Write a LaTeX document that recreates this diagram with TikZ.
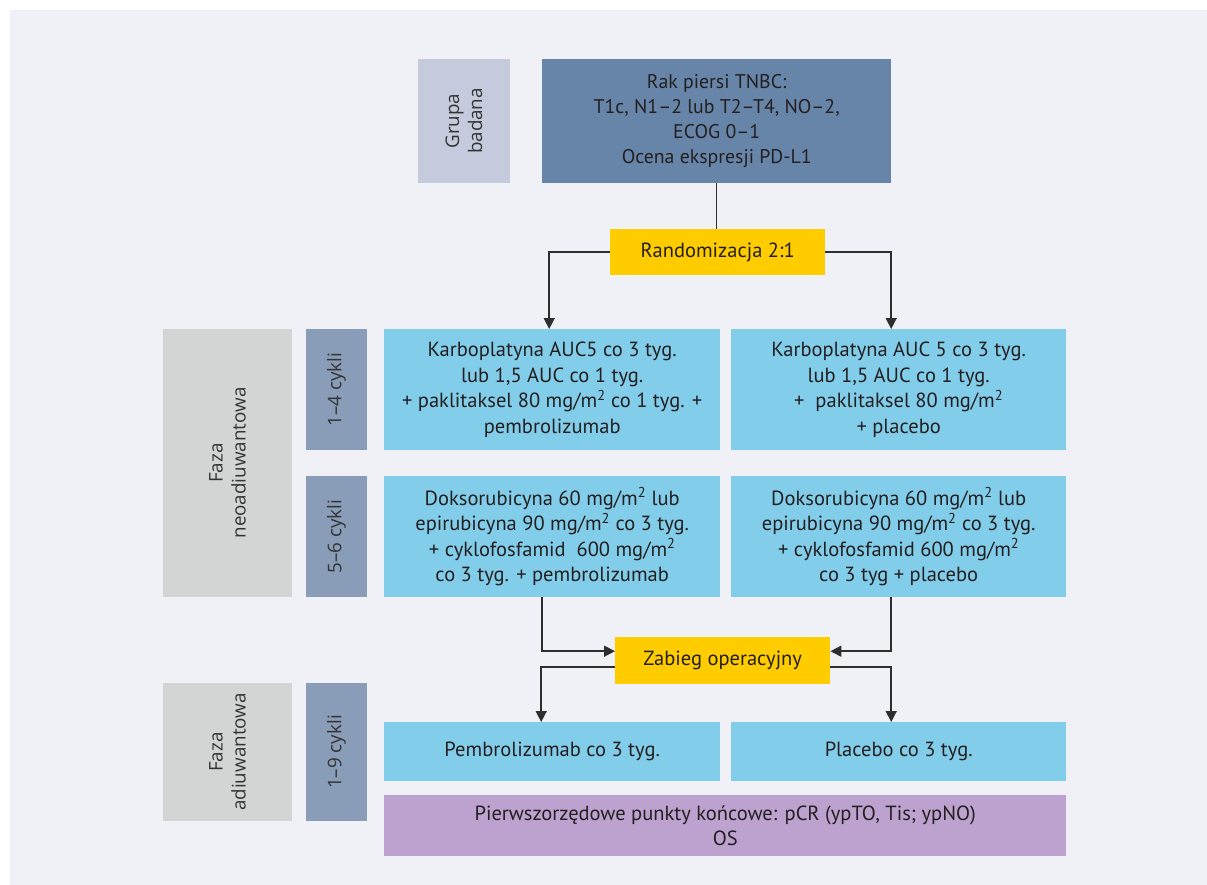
\documentclass[tikz,border=0pt]{standalone}
\usepackage{fontspec}
\setmainfont{PT Sans}
\newfontfamily\rotfont{Open Sans}
\usetikzlibrary{arrows.meta}
\definecolor{panel}{HTML}{F0F1F7}
\definecolor{grupa}{HTML}{C5CBDD}
\definecolor{topbox}{HTML}{6785A8}
\definecolor{yell}{HTML}{FFCC00}
\definecolor{lblue}{HTML}{82CDE9}
\definecolor{fazagray}{HTML}{D3D4D4}
\definecolor{cyc}{HTML}{8A9DB8}
\definecolor{purp}{HTML}{BDA2CF}
\definecolor{txt}{HTML}{231F20}
\definecolor{rtxt}{HTML}{333333}
\definecolor{ln}{HTML}{2E2E2E}
\begin{document}
\begin{tikzpicture}[x=1pt,y=-1pt,
  bx/.style={inner sep=0pt, anchor=north west, align=center, text=txt,
    font=\fontsize{20.5}{25.5}\selectfont},
  rot/.style={inner sep=0pt, rotate=90, align=center, text=rtxt,
    font=\rotfont\fontsize{18.8}{23}\selectfont},
  conn/.style={draw=ln, line width=1.5pt},
  arr/.style={conn, -{Triangle[length=11pt,width=11pt]}}]
\useasboundingbox (0,0) rectangle (1207,885);
\fill[white] (0,0) rectangle (1207,885);
\fill[panel] (10,10) rectangle (1207,885);

% top
\node[rot, fill=grupa, minimum width=124pt, minimum height=92pt] (grupa) at (464,121) {Grupa\\badana};
\node[bx, fill=topbox, minimum width=349pt, minimum height=124pt, font=\fontsize{19.8}{25}\selectfont] (top) at (542,59)
  {Rak piersi TNBC:\\T1c, N1–2 lub T2–T4, NO–2,\\ECOG 0–1\\Ocena ekspresji PD-L1};
\node[bx, fill=yell, minimum width=215pt, minimum height=46pt] (rand) at (610,229) {Randomizacja 2:1};

% neoadjuvant
\node[rot, fill=fazagray, minimum width=268pt, minimum height=129pt] (fneo) at (227.5,463) {Faza\\neoadiuwantowa};
\node[rot, fill=cyc, minimum width=121pt, minimum height=61pt] (cyA) at (336.5,389.5) {1–4 cykli};
\node[rot, fill=cyc, minimum width=121pt, minimum height=61pt] (cyB) at (336.5,536.5) {5–6 cykli};

\node[bx, fill=lblue, minimum width=336pt, minimum height=121pt] (l1) at (384,329)
  {Karboplatyna AUC5 co 3 tyg.\\lub 1,5 AUC co 1 tyg.\\+ paklitaksel 80 mg/m\textsuperscript{2} co 1 tyg. +\\pembrolizumab};
\node[bx, fill=lblue, minimum width=335pt, minimum height=121pt] (r1) at (731,329)
  {Karboplatyna AUC 5 co 3 tyg.\\lub 1,5 AUC co 1 tyg.\\+\ \ paklitaksel 80 mg/m\textsuperscript{2}\\+ placebo};
\node[bx, fill=lblue, minimum width=336pt, minimum height=121pt] (l2) at (384,476)
  {Doksorubicyna 60 mg/m\textsuperscript{2} lub\\epirubicyna 90 mg/m\textsuperscript{2} co 3 tyg.\\+ cyklofosfamid\ \ 600 mg/m\textsuperscript{2}\\co 3 tyg. + pembrolizumab};
\node[bx, fill=lblue, minimum width=335pt, minimum height=121pt] (r2) at (731,476)
  {Doksorubicyna 60 mg/m\textsuperscript{2} lub\\epirubicyna 90 mg/m\textsuperscript{2} co 3 tyg.\\+ cyklofosfamid 600 mg/m\textsuperscript{2}\\co 3 tyg + placebo};

\node[bx, fill=yell, minimum width=215pt, minimum height=47pt] (zab) at (615,637) {Zabieg operacyjny};

% adjuvant
\node[rot, fill=fazagray, minimum width=138pt, minimum height=129pt] (fadj) at (227.5,752) {Faza\\adiuwantowa};
\node[rot, fill=cyc, minimum width=138pt, minimum height=61pt] (cyC) at (336.5,752) {1–9 cykli};
\node[bx, fill=lblue, minimum width=336pt, minimum height=59pt] (pem) at (384,722) {Pembrolizumab co 3 tyg.};
\node[bx, fill=lblue, minimum width=335pt, minimum height=59pt] (pla) at (731,722) {Placebo co 3 tyg.};
\node[bx, fill=purp, minimum width=682pt, minimum height=61pt] (end) at (384,795)
  {Pierwszorzędowe punkty końcowe: pCR (ypTO, Tis; ypNO)\\OS};

% connectors
\draw[conn] (top.south) -- (top.south |- rand.north);
\draw[arr] (rand.west) -| ([xshift=-3pt]l1.north);
\draw[arr] (rand.east) -| ([xshift=-7.5pt]r1.north);
\draw[arr] ([xshift=-10pt]l2.south) |- ([yshift=9.5pt]zab.west);
\draw[arr] ([xshift=-7.5pt]r2.south) |- ([yshift=9.5pt]zab.east);
\draw[arr] ([yshift=-6.5pt]zab.west) -| ([xshift=-11pt]pem.north);
\draw[arr] ([yshift=-6.5pt]zab.east) -| ([xshift=-7.5pt]pla.north);
\end{tikzpicture}
\end{document}
